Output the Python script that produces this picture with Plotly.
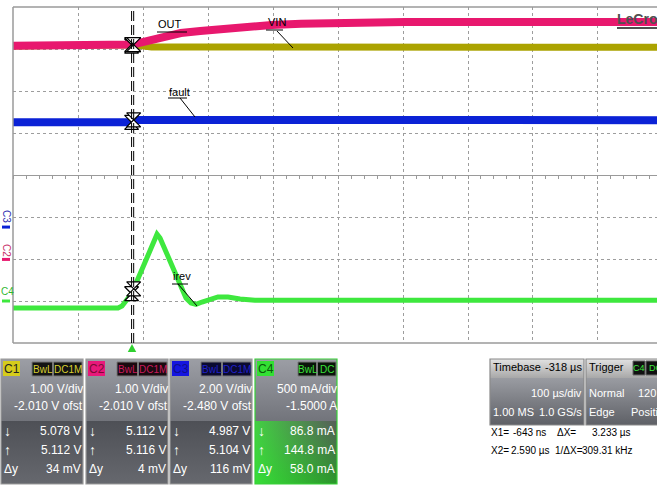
import plotly.graph_objects as go

W, H = 657, 486

# ---------------- acquisition data ----------------
# time in µs relative to the trigger, 100 µs/div
T_LEFT = -183.08
T_RIGHT = 807.7
X1_US = -0.643
X2_US = 2.590

# channel settings (C4 in mA)
c1_scale, c1_ofst = 1.00, -2.010
c2_scale, c2_ofst = 1.00, -2.010
c3_scale, c3_ofst = 2.00, -2.480
c4_scale, c4_ofst = 500.0, -1500.0

# C1 : VIN (V)
vin_t = [-183.08, -6.0, -0.643, 2.59, 30.0, 200.0, 807.7]
vin_v = [5.08, 5.08, 5.078, 5.112, 5.06, 5.05, 5.05]

# C2 : OUT (V)
out_t = [-183.08, -6.0, -0.643, 2.59, 10.0, 20.0, 35.0, 50.0, 75.0, 105.0,
         145.0, 180.0, 215.0, 260.0, 320.0, 420.0, 807.7]
out_v = [5.09, 5.10, 5.112, 5.116, 5.15, 5.19, 5.27, 5.32, 5.39, 5.44,
         5.50, 5.54, 5.58, 5.61, 5.64, 5.65, 5.65]

# C3 : fault (V)
fault_t = [-183.08, -3.0, -0.643, 2.59, 40.0, 807.7]
fault_v = [4.99, 4.99, 4.987, 5.104, 5.10, 5.09]

# C4 : irev (mA)
irev_t = [-183.08, -21.5, -15.4, -9.2, -4.6, -0.643, 2.59, 12.3, 24.6, 32.3,
          38.5, 43.1, 50.8, 61.5, 73.8, 83.1, 90.8, 98.5, 107.7, 120.0,
          132.3, 147.7, 166.2, 189.0, 807.7]
irev_ma = [-83, -83, -60, 0, 48, 86.8, 144.8, 320, 548, 702,
           795, 750, 607, 405, 190, 36, -24, -40, -12, 24,
           48, 48, 24, 10, 8]

# cursor readouts per channel
ch_names = ["C1", "C2", "C3", "C4"]
ch_scale_txt = ["1.00 V/div", "1.00 V/div", "2.00 V/div", "500 mA/div"]
ch_ofst_txt = ["-2.010 V ofst", "-2.010 V ofst", "-2.480 V ofst", "-1.5000 A"]
ch_x1 = [5.078, 5.112, 4.987, 86.8]
ch_x2 = [5.112, 5.116, 5.104, 144.8]
ch_unit = ["V", "V", "V", "mA"]
ch_dy_txt = ["34 mV", "4 mV", "116 mV", "58.0 mA"]
ch_cpl = ["DC1M", "DC1M", "DC1M", "DC"]

timebase_txt = ["-318 µs", "100 µs/div", "1.00 MS", "1.0 GS/s"]
trigger_txt = ["Normal", "120 mV", "Edge", "Positive"]
dx_txt = "3.233 µs"
inv_dx_txt = "309.31 kHz"

# ---------------- styling ----------------
YEL = "#aba300"
PINK = "#e8186e"
BLUE = "#0b22d6"
GREEN = "#3ee83e"
GRID = "#9d9d9d"
FRAME = "#9a9a9a"
FONT = "Liberation Sans, Arial, sans-serif"

PL, PR, PT, PB = 13, 657, 7, 343          # grid rectangle in pixels
xdom = [PL / W, PR / W]
ydom = [(H - PB) / H, (H - PT) / H]
ymid = (ydom[0] + ydom[1]) / 2
div = (ydom[1] - ydom[0]) / 8


def yrange(scale, ofst):
    c = -ofst
    return [c - 4 * scale, c + 4 * scale]


fig = go.Figure()

# waveforms
fig.add_trace(go.Scatter(x=vin_t, y=vin_v, yaxis="y", mode="lines",
                         line=dict(color=YEL, width=7), hoverinfo="skip"))
fig.add_trace(go.Scatter(x=out_t, y=out_v, yaxis="y2", mode="lines",
                         line=dict(color=PINK, width=8), hoverinfo="skip"))
fig.add_trace(go.Scatter(x=fault_t, y=fault_v, yaxis="y3", mode="lines",
                         line=dict(color=BLUE, width=8), hoverinfo="skip"))
fig.add_trace(go.Scatter(x=irev_t, y=irev_ma, yaxis="y4", mode="lines",
                         line=dict(color=GREEN, width=5), hoverinfo="skip"))

# cursor markers on each waveform
for ax, i in zip(["y", "y2", "y3", "y4"], range(4)):
    fig.add_trace(go.Scatter(x=[X1_US, X2_US], y=[ch_x1[i], ch_x2[i]], yaxis=ax,
                             mode="markers", hoverinfo="skip", cliponaxis=False,
                             marker=dict(symbol="hourglass", size=14, color="white",
                                         line=dict(color="black", width=1.2))))

shapes = []
annotations = []


def rect(x0, y0, x1, y1, fill=None, line=None, lw=1):
    shapes.append(dict(type="rect", xref="x9", yref="y9", x0=x0, y0=y0, x1=x1, y1=y1,
                       fillcolor=fill or "rgba(0,0,0,0)",
                       line=dict(color=line or "rgba(0,0,0,0)", width=lw if line else 0),
                       layer="above"))


def seg(x0, y0, x1, y1, color="black", width=1, dash=None, xref="x9", yref="y9"):
    ln = dict(color=color, width=width)
    if dash:
        ln["dash"] = dash
    shapes.append(dict(type="line", xref=xref, yref=yref, x0=x0, y0=y0, x1=x1, y1=y1,
                       line=ln, layer="above"))


def text(x, y, s, size=12, color="white", anchor="left", family=FONT, angle=0):
    annotations.append(dict(xref="x9", yref="y9", x=x, y=y, text=s, showarrow=False,
                            xanchor=anchor, yanchor="middle", textangle=angle,
                            borderpad=0,
                            font=dict(family=family, size=size, color=color)))


def grad(x0, y0, x1, y1, c0, c1, kind="vertical"):
    if kind == "vertical":
        start, stop = y0, y1
    else:
        start, stop = x0, x1
    fig.add_trace(go.Scatter(x=[x0, x1, x1, x0, x0], y=[y0, y0, y1, y1, y0],
                             xaxis="x9", yaxis="y9", mode="lines", fill="toself",
                             line=dict(width=0, color="rgba(0,0,0,0)"),
                             fillgradient=dict(type=kind, colorscale=[[0, c0], [1, c1]],
                                               start=start, stop=stop),
                             hoverinfo="skip"))


# grid frame
seg(PL, PT, PR, PT, FRAME, 1.5)
seg(PL, PT, PL, PB, FRAME, 1.5)
seg(PL, PB, PR, PB, FRAME, 1.5)

# cursors
for xc in (X1_US, X2_US):
    shapes.append(dict(type="line", xref="x", yref="paper", x0=xc, x1=xc,
                       y0=ydom[0], y1=ydom[1], layer="above",
                       line=dict(color="black", width=1, dash="10px,4px")))

# trigger position marker
shapes.append(dict(type="path", xref="x", yref="y9", layer="above",
                   path="M -6.5,352 L 6.5,352 L 0,344 Z",
                   fillcolor="#2fd02f", line=dict(width=0)))

# trace labels with leader lines
text(157, 24, "OUT", 11, "black")
seg(157, 32, 187, 32)
text(267, 22, "VIN", 11, "black")
seg(266, 30, 283, 30)
seg(277, 31, 293, 48)
text(168, 92, "fault", 11, "black")
seg(168, 98, 187, 98)
seg(180, 98, 195, 117)
text(172, 276, "irev", 11, "black")
seg(172, 284, 188, 284)
seg(178, 284, 197, 306)

# channel ground markers and tags at the left edge
text(7, 216, "C3", 10, "#2a2ab0", anchor="center", angle=90)
shapes.append(dict(type="line", xref="x9", yref="y3", x0=2, x1=10, y0=0, y1=0,
                   line=dict(color=BLUE, width=3), layer="above"))
text(7, 250, "C2", 10, "#c8306a", anchor="center", angle=90)
shapes.append(dict(type="line", xref="x9", yref="y2", x0=2, x1=10, y0=0, y1=0,
                   line=dict(color=PINK, width=3), layer="above"))
text(7, 291, "C4", 10, "#30b830", anchor="center")
shapes.append(dict(type="line", xref="x9", yref="y4", x0=2, x1=10, y0=0, y1=0,
                   line=dict(color=GREEN, width=3), layer="above"))

# brand mark
text(616, 19, "<b>LeCroy</b>", 14, "#505050")
seg(617, 28, 657, 28, "#505050", 2)

# ---------------- channel descriptor boxes ----------------
PANEL_L = [1, 86, 170, 255]
lab_fill = ["#d5cc1c", "#e8187a", "#1515e0", "#33e033"]
lab_txt = ["#222222", "#7a0c34", "#10108a", "#0a5a0a"]
tag_fill = ["#141414", "#1a0a10", "#0a0a30", "#0a140a"]
tag_txt = ["#d8cf30", "#c81a5c", "#2020c8", "#3ae03a"]

for i, L in enumerate(PANEL_L):
    R = L + 82
    grad(L, 359, R, 421, "#9c9ea5", "#72747b")
    if i < 3:
        grad(L, 421, R, 484, "#4e5056", "#66686e")
    else:
        grad(L, 421, R, 484, "#585c5a", "#2a962a")
        grad(L, 421, R, 484, "rgba(60,245,60,0.75)", "rgba(60,245,60,0)", kind="horizontal")
    rect(L, 359, R, 484, line=("#38d038" if i == 3 else "#9a9a9a"), lw=1.2)
    rect(L + 2, 361, L + 19, 376, fill=lab_fill[i])
    text(L + 10.5, 368.5, ch_names[i], 12, lab_txt[i], anchor="center")
    if i < 3:
        b0, b1, b2 = L + 31, L + 52, L + 81
    else:
        b0, b1, b2 = L + 43, L + 62, L + 81
    rect(b0, 362, b1 - 0.5, 376, fill=tag_fill[i], line="#777777")
    rect(b1 + 0.5, 362, b2, 376, fill=tag_fill[i], line="#777777")
    text((b0 + b1) / 2, 369, "BwL", 10, tag_txt[i], anchor="center")
    text((b1 + b2) / 2, 369, ch_cpl[i], 10, tag_txt[i], anchor="center")
    fmt = "{:.1f} {}" if ch_unit[i] == "mA" else "{:.3f} {}"
    text(R + 1, 389, ch_scale_txt[i], 12, anchor="right")
    text(R + 1, 406, ch_ofst_txt[i], 12, anchor="right")
    text(R - 1, 431, fmt.format(ch_x1[i], ch_unit[i]), 12, anchor="right")
    text(R - 1, 450, fmt.format(ch_x2[i], ch_unit[i]), 12, anchor="right")
    text(R - 1, 469, ch_dy_txt[i], 12, anchor="right")
    text(L + 2, 431, "↓", 14)
    text(L + 2, 450, "↑", 14)
    text(L + 2, 469, "Δy", 12)

# ---------------- timebase / trigger boxes ----------------
for L, R in ((490, 584), (586, 668)):
    grad(L, 359, R, 378, "#e2e2e2", "#a8a8a8")
    grad(L, 378, R, 425, "#9a9ca2", "#5e6066")
    rect(L, 359, R, 425, line="#8a8a8a", lw=1.2)

text(492, 367, "Timebase", 11, "black")
text(583, 367, timebase_txt[0], 11, "black", anchor="right")
text(583, 393, timebase_txt[1], 11, anchor="right")
text(492, 412, timebase_txt[2], 11)
text(583, 412, timebase_txt[3], 11, anchor="right")

text(588, 367, "Trigger", 11, "black")
rect(633, 361, 645, 375, fill="#111111", line="#666666")
rect(646, 361, 664, 375, fill="#111111", line="#666666")
text(639, 368, "C4", 9, GREEN, anchor="center")
text(648, 368, "DC", 9, GREEN)
text(588, 393, trigger_txt[0], 11)
text(637, 393, trigger_txt[1], 11)
text(588, 412, trigger_txt[2], 11)
text(630, 412, trigger_txt[3], 11)

text(490, 432, "X1=", 10, "black")
text(547, 432, "{:.0f} ns".format(X1_US * 1000), 10, "black", anchor="right")
text(556, 432, "ΔX=", 10, "black")
text(632, 432, dx_txt, 10, "black", anchor="right")
text(490, 450, "X2=", 10, "black")
text(551, 450, "{:.3f} µs".format(X2_US), 10, "black", anchor="right")
text(554, 450, "1/ΔX=", 10, "black")
text(634, 450, inv_dx_txt, 10, "black", anchor="right")

# ---------------- axes ----------------
tick_common = dict(showticklabels=False, zeroline=False, range=[T_LEFT, T_RIGHT],
                   domain=xdom, tick0=T_LEFT, dtick=100, fixedrange=True)

fig.update_layout(
    width=W, height=H, margin=dict(l=0, r=0, t=0, b=0),
    paper_bgcolor="white", plot_bgcolor="rgba(0,0,0,0)", showlegend=False,
    xaxis=dict(**tick_common, anchor="free", position=ymid, side="bottom",
               showgrid=True, gridcolor=GRID, griddash="dot", gridwidth=1,
               showline=True, linecolor=FRAME, linewidth=1,
               ticks="outside", ticklen=3, tickcolor=FRAME,
               minor=dict(tick0=T_LEFT, dtick=20, ticks="outside", ticklen=3,
                          tickcolor=FRAME, showgrid=False)),
    xaxis2=dict(**tick_common, overlaying="x", anchor="free", position=ymid, side="top",
                showgrid=False, showline=False, ticks="outside", ticklen=3, tickcolor=FRAME,
                minor=dict(tick0=T_LEFT, dtick=20, ticks="outside", ticklen=3,
                           tickcolor=FRAME, showgrid=False)),
    xaxis3=dict(**tick_common, overlaying="x", anchor="free", position=ymid + 2.5 * div,
                side="bottom", showgrid=False, showline=False, ticks="outside", ticklen=2,
                tickcolor="#b0b0b0",
                minor=dict(tick0=T_LEFT, dtick=20, ticks="outside", ticklen=2,
                           tickcolor="#b0b0b0", showgrid=False)),
    xaxis4=dict(**tick_common, overlaying="x", anchor="free", position=ymid - 2.5 * div,
                side="bottom", showgrid=False, showline=False, ticks="outside", ticklen=2,
                tickcolor="#b0b0b0",
                minor=dict(tick0=T_LEFT, dtick=20, ticks="outside", ticklen=2,
                           tickcolor="#b0b0b0", showgrid=False)),
    yaxis=dict(domain=ydom, range=yrange(c1_scale, c1_ofst), anchor="x",
               tick0=yrange(c1_scale, c1_ofst)[0], dtick=c1_scale,
               showgrid=True, gridcolor=GRID, griddash="dot", gridwidth=1,
               showticklabels=False, ticks="", zeroline=False, showline=False,
               fixedrange=True),
    yaxis2=dict(overlaying="y", range=yrange(c2_scale, c2_ofst), visible=False),
    yaxis3=dict(overlaying="y", range=yrange(c3_scale, c3_ofst), visible=False),
    yaxis4=dict(overlaying="y", range=yrange(c4_scale, c4_ofst), visible=False),
    xaxis9=dict(domain=[0, 1], range=[0, W], visible=False, anchor="y9", fixedrange=True),
    yaxis9=dict(domain=[0, 1], range=[H, 0], visible=False, anchor="x9", fixedrange=True),
    shapes=shapes,
    annotations=annotations,
)

fig.write_html("out.html")
